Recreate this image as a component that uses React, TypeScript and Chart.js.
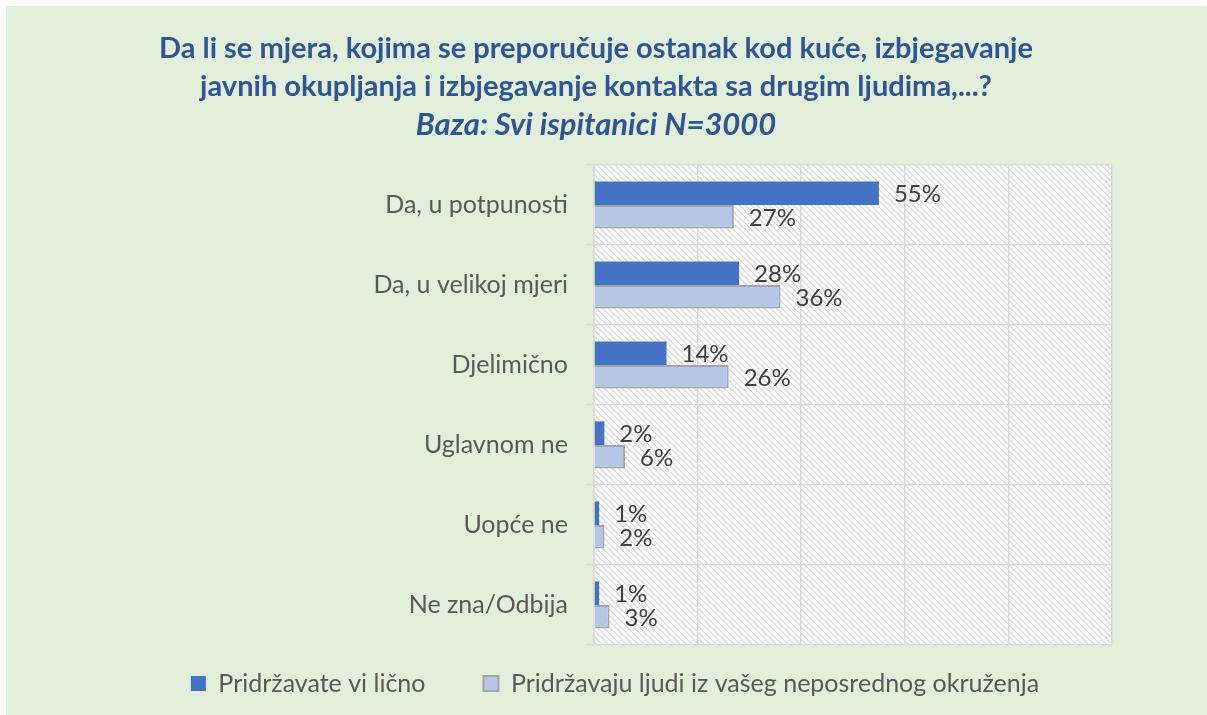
import React, { useEffect, useRef } from "react";
import { Chart, registerables } from "chart.js";

Chart.register(...registerables);

const categories = [
  "Da, u potpunosti",
  "Da, u velikoj mjeri",
  "Djelimično",
  "Uglavnom ne",
  "Uopće ne",
  "Ne zna/Odbija",
];
const personalValues = [55, 28, 14, 2, 1, 1];
const surroundingsValues = [27, 36, 26, 6, 2, 3];
const seriesNames = [
  "Pridržavate vi lično",
  "Pridržavaju ljudi iz vašeg neposrednog okruženja",
];
const titleLines = [
  "Da li se mjera, kojima se preporučuje ostanak kod kuće, izbjegavanje",
  "javnih okupljanja i izbjegavanje kontakta sa drugim ljudima,...?",
];
const subtitleText = "Baza: Svi ispitanici N=3000";
const xMin = 0;
const xMax = 100;
const xStep = 20;

const FONT = "Lato, 'Open Sans', 'DejaVu Sans', sans-serif";
const TITLE_COLOR = "#2F5597";
const TEXT_COLOR = "#595959";
const LABEL_COLOR = "#404040";
const GRID_COLOR = "#D9D9D9";

const CANVAS_W = 1180;
const CANVAS_H = 709;

function makeHatch(): CanvasPattern | string {
  const s = 6;
  const c = document.createElement("canvas");
  c.width = s;
  c.height = s;
  const g = c.getContext("2d");
  if (!g) return "#ffffff";
  g.fillStyle = "#ffffff";
  g.fillRect(0, 0, s, s);
  g.strokeStyle = "#D4D4D4";
  g.lineWidth = 1.2;
  g.beginPath();
  g.moveTo(-1, -1);
  g.lineTo(s + 1, s + 1);
  g.moveTo(s - 1, -1);
  g.lineTo(s + 1, 1);
  g.moveTo(-1, s - 1);
  g.lineTo(1, s + 1);
  g.stroke();
  const p = g.createPattern(c, "repeat");
  return p || "#ffffff";
}

const hatchPlugin = {
  id: "hatchBg",
  beforeDraw(chart: any) {
    const { ctx, chartArea } = chart;
    if (!chartArea) return;
    const { left, top, right, bottom } = chartArea;
    ctx.save();
    ctx.fillStyle = makeHatch();
    ctx.fillRect(left, top, right - left, bottom - top);
    ctx.restore();
  },
};

const legendShiftPlugin = {
  id: "legendShift",
  afterLayout(chart: any) {
    const lg = chart.legend;
    if (!lg) return;
    lg.left += 19;
    lg.right += 19;
  },
};

const valueLabelPlugin = {
  id: "valueLabels",
  afterDatasetsDraw(chart: any) {
    const { ctx } = chart;
    ctx.save();
    ctx.font = `24px ${FONT}`;
    ctx.fillStyle = LABEL_COLOR;
    ctx.textAlign = "left";
    ctx.textBaseline = "middle";
    chart.data.datasets.forEach((ds: any, di: number) => {
      const meta = chart.getDatasetMeta(di);
      meta.data.forEach((el: any, i: number) => {
        const v = ds.data[i];
        ctx.fillText(`${v}%`, el.x + 15, el.y + 1);
      });
    });
    ctx.restore();
  },
};

export default function App() {
  const ref = useRef<HTMLCanvasElement | null>(null);

  useEffect(() => {
    if (!ref.current) return;
    const chart = new Chart(ref.current, {
      type: "bar",
      data: {
        labels: categories,
        datasets: [
          {
            label: seriesNames[0],
            data: personalValues,
            backgroundColor: "#4472C4",
            borderColor: "#4472C4",
            borderWidth: 0,
            categoryPercentage: 0.59,
            barPercentage: 1,
          },
          {
            label: seriesNames[1],
            data: surroundingsValues,
            backgroundColor: "#B4C7E7",
            borderColor: "#A5A5A5",
            borderWidth: 2,
            categoryPercentage: 0.59,
            barPercentage: 1,
          },
        ],
      },
      options: {
        indexAxis: "y",
        responsive: false,
        animation: false,
        layout: { padding: { left: 74, right: 74, top: 0, bottom: 9 } },
        scales: {
          x: {
            min: xMin,
            max: xMax,
            ticks: { display: false, stepSize: xStep },
            grid: { color: GRID_COLOR, lineWidth: 1.5, drawTicks: false },
            border: { display: false },
            afterFit(scale: any) {
              scale.height = 0;
            },
          },
          y: {
            grid: {
              offset: true,
              color: GRID_COLOR,
              lineWidth: 1.5,
              tickLength: 9,
            },
            border: { color: GRID_COLOR, width: 1.5 },
            ticks: {
              color: TEXT_COLOR,
              font: { family: FONT, size: 25 },
              padding: 17,
            },
            afterFit(scale: any) {
              scale.width = 514;
            },
          },
        },
        plugins: {
          title: {
            display: true,
            text: titleLines,
            color: TITLE_COLOR,
            font: { family: FONT, size: 29, weight: "bold", lineHeight: "38px" },
            padding: { top: 24, bottom: 0 },
          },
          subtitle: {
            display: true,
            text: subtitleText,
            color: TITLE_COLOR,
            font: {
              family: FONT,
              size: 31,
              weight: "bold",
              style: "italic",
              lineHeight: "38px",
            },
            padding: { top: 0, bottom: 21 },
          },
          legend: {
            display: true,
            position: "bottom",
            labels: {
              color: TEXT_COLOR,
              font: { family: FONT, size: 25 },
              boxWidth: 15,
              boxHeight: 15,
              padding: 26,
              generateLabels(chart: any) {
                const items = Chart.defaults.plugins.legend.labels.generateLabels(chart);
                return items.map((it: any, i: number) =>
                  i === 0 ? { ...it, text: it.text + "     " } : it
                );
              },
            },
          },
          tooltip: { enabled: false },
        },
      },
      plugins: [hatchPlugin, valueLabelPlugin, legendShiftPlugin],
    } as any);
    return () => chart.destroy();
  }, []);

  return (
    <div
      style={{
        position: "fixed",
        left: 6,
        top: 6,
        right: 0,
        bottom: 0,
        background: "#E2EFDA",
        overflow: "hidden",
      }}
    >
      <canvas
        ref={ref}
        width={CANVAS_W}
        height={CANVAS_H}
        style={{ width: CANVAS_W, height: CANVAS_H, display: "block" }}
      />
    </div>
  );
}
